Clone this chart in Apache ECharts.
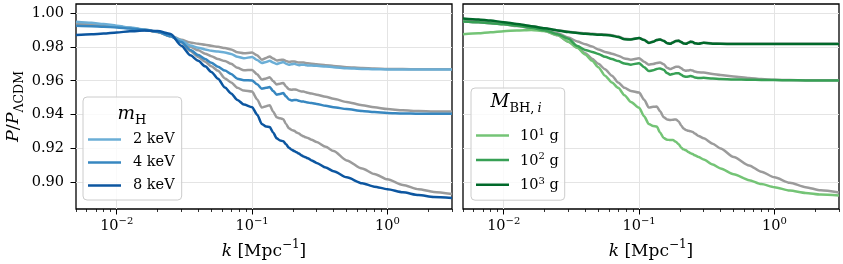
<!DOCTYPE html>
<html><head><meta charset="utf-8">
<script src="https://cdn.jsdelivr.net/npm/echarts@6/dist/echarts.min.js"></script>
<style>html,body{margin:0;padding:0;background:#fff}#c{width:843px;height:264px}</style>
</head><body><div id="c"></div>
<script>
// wavenumbers k [Mpc^-1]
const kValues = [0.005, 0.0065, 0.008, 0.01, 0.0125, 0.016, 0.02, 0.025, 0.03, 0.035, 0.04, 0.045, 0.05, 0.056, 0.063, 0.07, 0.078, 0.087, 0.1, 0.109, 0.118, 0.127, 0.135, 0.143, 0.152, 0.161, 0.17, 0.178, 0.187, 0.196, 0.205, 0.213, 0.222, 0.231, 0.24, 0.249, 0.258, 0.275, 0.3, 0.35, 0.4, 0.5, 0.65, 0.8, 1.0, 1.3, 1.7, 2.2, 3.0];

// left panel: m_H
const mH2keV = [0.9948,0.9942,0.9935,0.9925,0.9914,0.9902,0.9890,0.9865,0.9838,0.9808,0.9795,0.9785,0.9777,0.9772,0.9767,0.9758,0.9742,0.9733,0.9740,0.9722,0.9705,0.9711,0.9718,0.9708,0.9699,0.9705,0.9710,0.9701,0.9694,0.9697,0.9700,0.9696,0.9692,0.9694,0.9695,0.9692,0.9690,0.9690,0.9688,0.9684,0.9680,0.9674,0.9670,0.9668,0.9667,0.9666,0.9666,0.9666,0.9666];
const mH4keV = [0.9924,0.9922,0.9919,0.9914,0.9908,0.9900,0.9889,0.9862,0.9828,0.9782,0.9752,0.9728,0.9706,0.9683,0.9660,0.9640,0.9612,0.9603,0.9602,0.9580,0.9553,0.9558,0.9563,0.9540,0.9518,0.9522,0.9527,0.9508,0.9490,0.9484,0.9486,0.9487,0.9482,0.9478,0.9477,0.9474,0.9471,0.9468,0.9463,0.9452,0.9444,0.9433,0.9422,0.9415,0.9410,0.9407,0.9405,0.9405,0.9405];
const mH8keV = [0.9870,0.9874,0.9879,0.9885,0.9892,0.9896,0.9893,0.9876,0.9806,0.9750,0.9718,0.9685,0.9652,0.9612,0.9560,0.9525,0.9486,0.9460,0.9444,0.9400,0.9345,0.9330,0.9327,0.9295,0.9260,0.9248,0.9243,0.9225,0.9205,0.9193,0.9185,0.9178,0.9170,0.9160,0.9153,0.9148,0.9142,0.9130,0.9115,0.9088,0.9066,0.9030,0.8995,0.8975,0.8960,0.8942,0.8925,0.8914,0.8908];
const grayL1 = [0.9935,0.9932,0.9928,0.9921,0.9912,0.9901,0.9889,0.9866,0.9842,0.9826,0.9818,0.9812,0.9806,0.9800,0.9793,0.9784,0.9768,0.9762,0.9766,0.9750,0.9724,0.9735,0.9743,0.9731,0.9720,0.9723,0.9724,0.9717,0.9711,0.9713,0.9714,0.9710,0.9707,0.9708,0.9708,0.9705,0.9703,0.9701,0.9698,0.9692,0.9687,0.9680,0.9675,0.9672,0.9670,0.9669,0.9668,0.9668,0.9668];
const grayL2 = [0.9935,0.9932,0.9928,0.9921,0.9912,0.9901,0.9888,0.9864,0.9834,0.9800,0.9780,0.9760,0.9745,0.9728,0.9716,0.9700,0.9676,0.9662,0.9664,0.9638,0.9607,0.9614,0.9621,0.9598,0.9578,0.9583,0.9587,0.9566,0.9550,0.9547,0.9549,0.9547,0.9541,0.9537,0.9536,0.9532,0.9529,0.9524,0.9518,0.9505,0.9494,0.9475,0.9456,0.9443,0.9433,0.9426,0.9421,0.9419,0.9418];
const grayL3 = [0.9934,0.9931,0.9927,0.9920,0.9911,0.9900,0.9888,0.9862,0.9827,0.9776,0.9740,0.9712,0.9686,0.9659,0.9614,0.9590,0.9558,0.9542,0.9536,0.9490,0.9442,0.9450,0.9456,0.9418,0.9385,0.9378,0.9373,0.9345,0.9320,0.9310,0.9305,0.9295,0.9288,0.9278,0.9272,0.9266,0.9262,0.9252,0.9238,0.9210,0.9185,0.9130,0.9082,0.9050,0.9018,0.8985,0.8960,0.8944,0.8932];

// right panel: M_BH,i
const bh1e1 = [0.9874,0.9880,0.9886,0.9892,0.9897,0.9900,0.9893,0.9870,0.9830,0.9795,0.9755,0.9718,0.9680,0.9630,0.9590,0.9558,0.9515,0.9475,0.9440,0.9390,0.9345,0.9333,0.9330,0.9295,0.9262,0.9252,0.9250,0.9250,0.9240,0.9225,0.9205,0.9195,0.9190,0.9180,0.9172,0.9167,0.9160,0.9150,0.9135,0.9105,0.9082,0.9048,0.9013,0.8990,0.8972,0.8952,0.8938,0.8928,0.8922];
const bh1e2 = [0.9950,0.9945,0.9940,0.9933,0.9924,0.9913,0.9898,0.9875,0.9848,0.9805,0.9782,0.9770,0.9758,0.9742,0.9728,0.9716,0.9702,0.9695,0.9704,0.9680,0.9657,0.9662,0.9670,0.9673,0.9665,0.9645,0.9636,0.9640,0.9644,0.9644,0.9635,0.9627,0.9623,0.9625,0.9628,0.9625,0.9619,0.9616,0.9617,0.9613,0.9611,0.9608,0.9606,0.9605,0.9604,0.9603,0.9602,0.9602,0.9602];
const bh1e3 = [0.9968,0.9962,0.9955,0.9946,0.9935,0.9922,0.9910,0.9897,0.9887,0.9882,0.9877,0.9874,0.9872,0.9870,0.9866,0.9858,0.9845,0.9843,0.9852,0.9840,0.9823,0.9830,0.9840,0.9843,0.9835,0.9822,0.9818,0.9826,0.9834,0.9836,0.9828,0.9820,0.9818,0.9824,0.9830,0.9828,0.9821,0.9818,0.9824,0.9819,0.9818,0.9817,0.9817,0.9817,0.9817,0.9817,0.9817,0.9817,0.9817];
const grayR1 = [0.9950,0.9946,0.9940,0.9933,0.9923,0.9910,0.9894,0.9868,0.9830,0.9795,0.9763,0.9730,0.9700,0.9668,0.9630,0.9590,0.9558,0.9540,0.9530,0.9488,0.9442,0.9446,0.9448,0.9420,0.9385,0.9372,0.9368,0.9370,0.9372,0.9360,0.9335,0.9318,0.9310,0.9305,0.9302,0.9298,0.9288,0.9274,0.9260,0.9228,0.9200,0.9150,0.9100,0.9063,0.9030,0.8998,0.8972,0.8953,0.8941];
const grayR2 = [0.9955,0.9950,0.9944,0.9936,0.9926,0.9913,0.9898,0.9880,0.9855,0.9832,0.9816,0.9802,0.9785,0.9770,0.9760,0.9748,0.9732,0.9724,0.9733,0.9712,0.9695,0.9699,0.9705,0.9707,0.9698,0.9677,0.9669,0.9675,0.9682,0.9683,0.9674,0.9664,0.9659,0.9661,0.9663,0.9660,0.9654,0.9650,0.9648,0.9640,0.9634,0.9625,0.9616,0.9610,0.9606,0.9604,0.9603,0.9603,0.9603];
const grayR3 = [0.9963,0.9958,0.9951,0.9943,0.9933,0.9921,0.9910,0.9898,0.9889,0.9884,0.9880,0.9877,0.9875,0.9873,0.9869,0.9861,0.9848,0.9845,0.9853,0.9842,0.9825,0.9831,0.9841,0.9844,0.9836,0.9823,0.9819,0.9827,0.9835,0.9837,0.9829,0.9821,0.9819,0.9825,0.9831,0.9829,0.9822,0.9819,0.9825,0.9820,0.9819,0.9818,0.9818,0.9818,0.9818,0.9818,0.9818,0.9818,0.9818];

const leftNames = ['2 keV', '4 keV', '8 keV'];
const rightNames = ['10^1 g', '10^2 g', '10^3 g'];
const xMajorTicks = [0.01, 0.1, 1];
const xMajorExponents = ['\u22122', '\u22121', '0'];
const yTicks = [0.90, 0.92, 0.94, 0.96, 0.98, 1.00];
const xRange = [0.005, 3];
const yRange = [0.8843, 1.0053];

const SERIF = 'DejaVu Serif';
const lg = Math.log10;
const xMinor = [];
[0.001, 0.01, 0.1, 1].forEach(d => { for (let m = 2; m <= 9; m++) { const v = m * d; if (v >= xRange[0] - 1e-9 && v <= xRange[1] + 1e-9) xMinor.push(lg(v)); } });

const blues = ['#6baed6', '#3787c0', '#0c56a0'];
const greens = ['#74c476', '#37a055', '#00692a'];
const GRAY = '#9b9b9b';
const GRID = '#e4e4e4';
const FS = 14.5;

const supRich = {
  b: {fontFamily: SERIF, fontSize: FS, color: '#000', lineHeight: FS, verticalAlign: 'bottom'},
  p: {fontFamily: SERIF, fontSize: 10, color: '#000', lineHeight: 18, verticalAlign: 'top'}
};

function xAxes(g) {
  return [{
    type: 'value', gridIndex: g, min: lg(xRange[0]), max: lg(xRange[1]), position: 'bottom',
    axisLine: {show: false, onZero: false},
    axisTick: {show: true, customValues: xMajorTicks.map(lg), length: 5.5, lineStyle: {color: '#000', width: 1}},
    axisLabel: {customValues: xMajorTicks.map(lg), margin: 7,
      formatter: v => { const i = xMajorTicks.findIndex(k => Math.abs(lg(k) - v) < 1e-6); return '{b|10}{p|' + xMajorExponents[i] + '}'; },
      rich: supRich},
    splitLine: {show: true, lineStyle: {color: GRID, width: 1}},
    name: '{i|k}{n| [Mpc}{p|\u22121}{n|]}', nameLocation: 'middle', nameGap: 27,
    nameTextStyle: {rich: {
      i: {fontFamily: SERIF, fontStyle: 'italic', fontSize: 17, color: '#000', lineHeight: 17, verticalAlign: 'bottom'},
      n: {fontFamily: SERIF, fontSize: 17, color: '#000', lineHeight: 17, verticalAlign: 'bottom'},
      p: {fontFamily: SERIF, fontSize: 12, color: '#000', lineHeight: 21, verticalAlign: 'top'}
    }}
  }, {
    type: 'value', gridIndex: g, min: lg(xRange[0]), max: lg(xRange[1]), position: 'bottom',
    axisLine: {show: false, onZero: false},
    axisTick: {show: true, customValues: xMinor, length: 3, lineStyle: {color: '#000', width: 0.8}},
    axisLabel: {show: false}, splitLine: {show: false}
  }];
}

function yAxis(g) {
  const first = g === 0;
  return {
    type: 'value', gridIndex: g, min: yRange[0], max: yRange[1], position: 'left',
    axisLine: {show: false, onZero: false},
    axisTick: {show: first, customValues: yTicks, length: 5.5, lineStyle: {color: '#000', width: 1}},
    axisLabel: {show: first, customValues: yTicks, margin: 12, formatter: v => v.toFixed(2),
      fontFamily: SERIF, fontSize: FS, color: '#000'},
    splitLine: {show: true, lineStyle: {color: GRID, width: 1}},
    name: first ? '{i|P}{n|/}{i|P}{s|\u039bCDM}' : '', nameLocation: 'middle', nameRotate: 90, nameGap: 50,
    nameTextStyle: {rich: {
      i: {fontFamily: SERIF, fontStyle: 'italic', fontSize: 17.5, color: '#000', lineHeight: 17.5, verticalAlign: 'top'},
      n: {fontFamily: SERIF, fontSize: 17.5, color: '#000', lineHeight: 17.5, verticalAlign: 'top'},
      s: {fontFamily: SERIF, fontSize: 12.5, color: '#000', lineHeight: 22, verticalAlign: 'bottom'}
    }}
  };
}

function mkSeries(name, vals, color, g, isGray) {
  return {
    type: 'line', name: name, xAxisIndex: g * 2, yAxisIndex: g,
    data: kValues.map((k, i) => [lg(k), vals[i]]),
    showSymbol: false, symbol: 'none', smooth: 0.25, smoothMonotone: 'x',
    lineStyle: {width: 2.5, color: color}, itemStyle: {color: color},
    z: isGray ? 2 : 3, silent: true, emphasis: {disabled: true}
  };
}

const series = [
  mkSeries('g1', grayL1, GRAY, 0, true), mkSeries('g2', grayL2, GRAY, 0, true), mkSeries('g3', grayL3, GRAY, 0, true),
  mkSeries(leftNames[0], mH2keV, blues[0], 0), mkSeries(leftNames[1], mH4keV, blues[1], 0), mkSeries(leftNames[2], mH8keV, blues[2], 0),
  mkSeries('r1', grayR1, GRAY, 1, true), mkSeries('r2', grayR2, GRAY, 1, true), mkSeries('r3', grayR3, GRAY, 1, true),
  mkSeries(rightNames[0], bh1e1, greens[0], 1), mkSeries(rightNames[1], bh1e2, greens[1], 1), mkSeries(rightNames[2], bh1e3, greens[2], 1)
];

const legendBase = {
  orient: 'vertical', icon: 'rect', itemWidth: 33, itemHeight: 2.5, selectedMode: false,
  backgroundColor: 'rgba(255,255,255,0.8)', borderColor: '#cccccc', borderWidth: 1, borderRadius: 4,
  itemStyle: {borderWidth: 0}
};

const option = {
  animation: false,
  backgroundColor: '#fff',
  grid: [
    {left: 76, top: 4, width: 376, height: 205, show: true, borderColor: '#000', borderWidth: 1.3, containLabel: false, outerBoundsMode: 'none'},
    {left: 463, top: 4, width: 376, height: 205, show: true, borderColor: '#000', borderWidth: 1.3, containLabel: false, outerBoundsMode: 'none'}
  ],
  xAxis: [...xAxes(0), ...xAxes(1)],
  yAxis: [yAxis(0), yAxis(1)],
  legend: [
    Object.assign({}, legendBase, {
      data: leftNames, left: 83, top: 97, itemGap: 8, padding: [35, 7, 7, 5],
      formatter: n => '{t|' + n + '}',
      textStyle: {padding: [0, 0, 0, 7], rich: {
        t: {fontFamily: SERIF, fontSize: FS, color: '#000', lineHeight: 15}
      }}
    }),
    Object.assign({}, legendBase, {
      data: rightNames, left: 471, top: 88, itemGap: 7.6, padding: [39, 6, 7, 5],
      formatter: n => '{b|10}{p|' + n.slice(3, 4) + '}{b| g}',
      textStyle: {padding: [0, 0, 0, 6], rich: {
        b: {fontFamily: SERIF, fontSize: FS, color: '#000', lineHeight: FS, verticalAlign: 'bottom'},
        p: {fontFamily: SERIF, fontSize: 10, color: '#000', lineHeight: 17, verticalAlign: 'top'}
      }}
    })
  ],
  graphic: [
    {type: 'text', x: 132, y: 116, z: 100, style: {
      text: '{m|m}{s|H}', align: 'center', verticalAlign: 'middle',
      rich: {
        m: {fontFamily: SERIF, fontStyle: 'italic', fontSize: 18.5, fill: '#000', lineHeight: 18.5, verticalAlign: 'top'},
        s: {fontFamily: SERIF, fontSize: 13, fill: '#000', lineHeight: 23, verticalAlign: 'bottom'}
      }}},
    {type: 'text', x: 516, y: 104, z: 100, style: {
      text: '{m|M}{s|BH,}{t|i}', align: 'center', verticalAlign: 'middle',
      rich: {
        m: {fontFamily: SERIF, fontStyle: 'italic', fontSize: 18.5, fill: '#000', lineHeight: 18.5, verticalAlign: 'top'},
        s: {fontFamily: SERIF, fontSize: 13, fill: '#000', lineHeight: 23, verticalAlign: 'bottom'},
        t: {fontFamily: SERIF, fontStyle: 'italic', fontSize: 13, fill: '#000', lineHeight: 23, verticalAlign: 'bottom', padding: [0, 0, 0, 3]}
      }}}
  ],
  series: series
};

const chart = echarts.init(document.getElementById('c'), null, {renderer: 'canvas', width: 843, height: 264});
chart.setOption(option);
</script>
</body></html>
